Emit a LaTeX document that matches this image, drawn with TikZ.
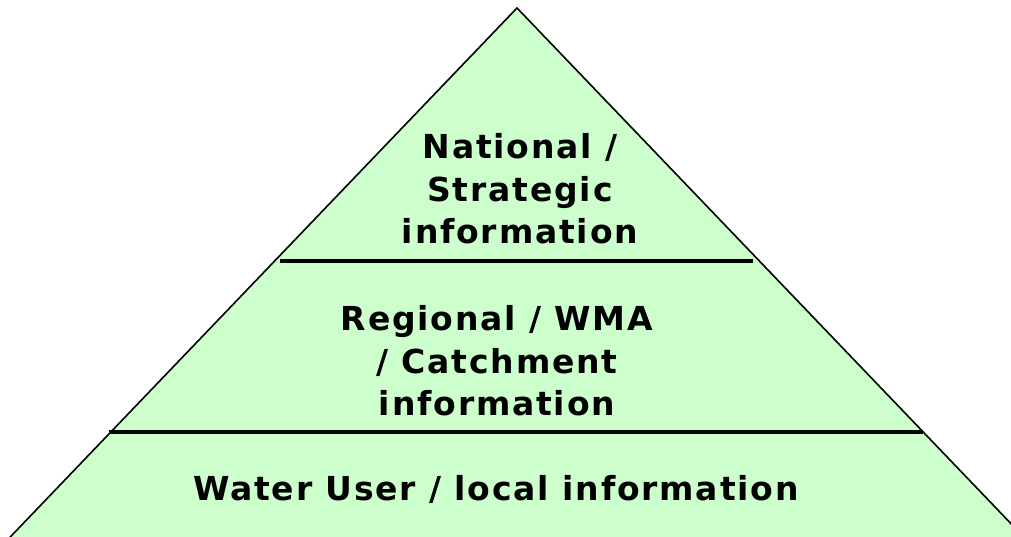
\documentclass[tikz,border=0pt]{standalone}
\usepackage{fontspec}
\setmainfont{DejaVu Sans}
\newfontfamily\pyrfont[LetterSpace=5.5]{DejaVu Sans}
\definecolor{pyrfill}{HTML}{CCFFCC}
\begin{document}
\begin{tikzpicture}[x=1pt,y=1pt,
  levelline/.style={line width=4pt},
  leveltext/.style={font=\pyrfont\fontsize{33}{42.5}\selectfont\bfseries, align=center, text=black}]
\useasboundingbox (0,0) rectangle (1011,536);
\clip (0,0) rectangle (1011,536);
\coordinate (apex) at (517,528);
\coordinate (bl) at (6.4,-5);
\coordinate (br) at (1027.6,-5);
\draw[fill=pyrfill, line width=1.6pt] (apex) -- (bl) -- (br) -- cycle;
\coordinate (l1a) at (280,275);
\coordinate (l1b) at (753,275);
\coordinate (l2a) at (109,104);
\coordinate (l2b) at (923,104);
\draw[levelline] (l1a) -- (l1b);
\draw[levelline] (l2a) -- (l2b);
\node[leveltext] (top) at (520,347) {National /\\Strategic\\information};
\node[leveltext] (mid) at (497,175) {Regional / WMA\\/ Catchment\\information};
\node[leveltext] (bot) at (496,47) {Water User / local information};
\end{tikzpicture}
\end{document}
